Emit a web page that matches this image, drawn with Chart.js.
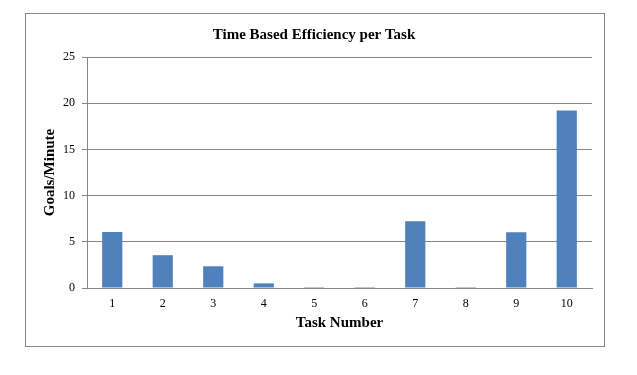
<!DOCTYPE html>
<html>
<head>
<meta charset="utf-8">
<script src="https://cdn.jsdelivr.net/npm/chart.js@4/dist/chart.umd.min.js"></script>
<style>
  html, body { margin: 0; padding: 0; background: #fff; }
  #frame {
    position: absolute; left: 25px; top: 13px;
    width: 578px; height: 332px;
    border: 1px solid #868686;
  }
  #frame canvas { display: block; }
</style>
</head>
<body>
<div id="frame"><canvas id="effChart" width="578" height="332"></canvas></div>
<script>
// Données du graphique
const tasks = ['1', '2', '3', '4', '5', '6', '7', '8', '9', '10'];
const goalsPerMinute = [6.05, 3.55, 2.35, 0.5, 0.1, 0.1, 7.22, 0.1, 6.03, 19.2];
const yTicks = [0, 5, 10, 15, 20, 25];

const serif = '"Liberation Serif", "Times New Roman", serif';
const gridGray = '#868686';

new Chart(document.getElementById('effChart'), {
    type: 'bar',
    data: {
        labels: tasks,
        datasets: [{
            label: 'Goals/Minute',
            data: goalsPerMinute,
            backgroundColor: '#4f81bd',
            borderWidth: 0,
            barPercentage: 0.8,
            categoryPercentage: 0.5,
        }],
    },
    options: {
        responsive: false,
        animation: false,
        layout: { padding: { top: 0, left: 10, right: 12, bottom: 14 } },
        plugins: {
            legend: { display: false },
            tooltip: { enabled: false },
            title: {
                display: true,
                text: 'Time Based Efficiency per Task',
                color: '#000',
                font: { family: serif, size: 15, weight: 'bold' },
                padding: { top: 12, bottom: 13 },
            },
        },
        scales: {
            x: {
                grid: { display: false, drawTicks: false },
                border: { display: true, color: gridGray, width: 1 },
                ticks: { color: '#000', font: { family: serif, size: 12 }, padding: 9, maxRotation: 0 },
                title: {
                    display: true,
                    text: 'Task Number',
                    color: '#000',
                    font: { family: serif, size: 15, weight: 'bold' },
                    padding: { top: 4, bottom: 0 },
                },
                afterFit: function (scale) { scale.height = 44; },
            },
            y: {
                min: 0,
                max: 25,
                afterBuildTicks: function (scale) {
                    scale.ticks = yTicks.map((v) => ({ value: v }));
                },
                grid: { color: gridGray, lineWidth: 1, drawTicks: true, tickLength: 5 },
                border: { display: true, color: gridGray, width: 1 },
                ticks: { color: '#000', font: { family: serif, size: 12 }, padding: 7 },
                title: {
                    display: true,
                    text: 'Goals/Minute',
                    color: '#000',
                    font: { family: serif, size: 15, weight: 'bold' },
                    padding: { top: 5, bottom: 0 },
                },
                afterFit: function (scale) { scale.width = 51; },
            },
        },
    },
});
</script>
</body>
</html>
